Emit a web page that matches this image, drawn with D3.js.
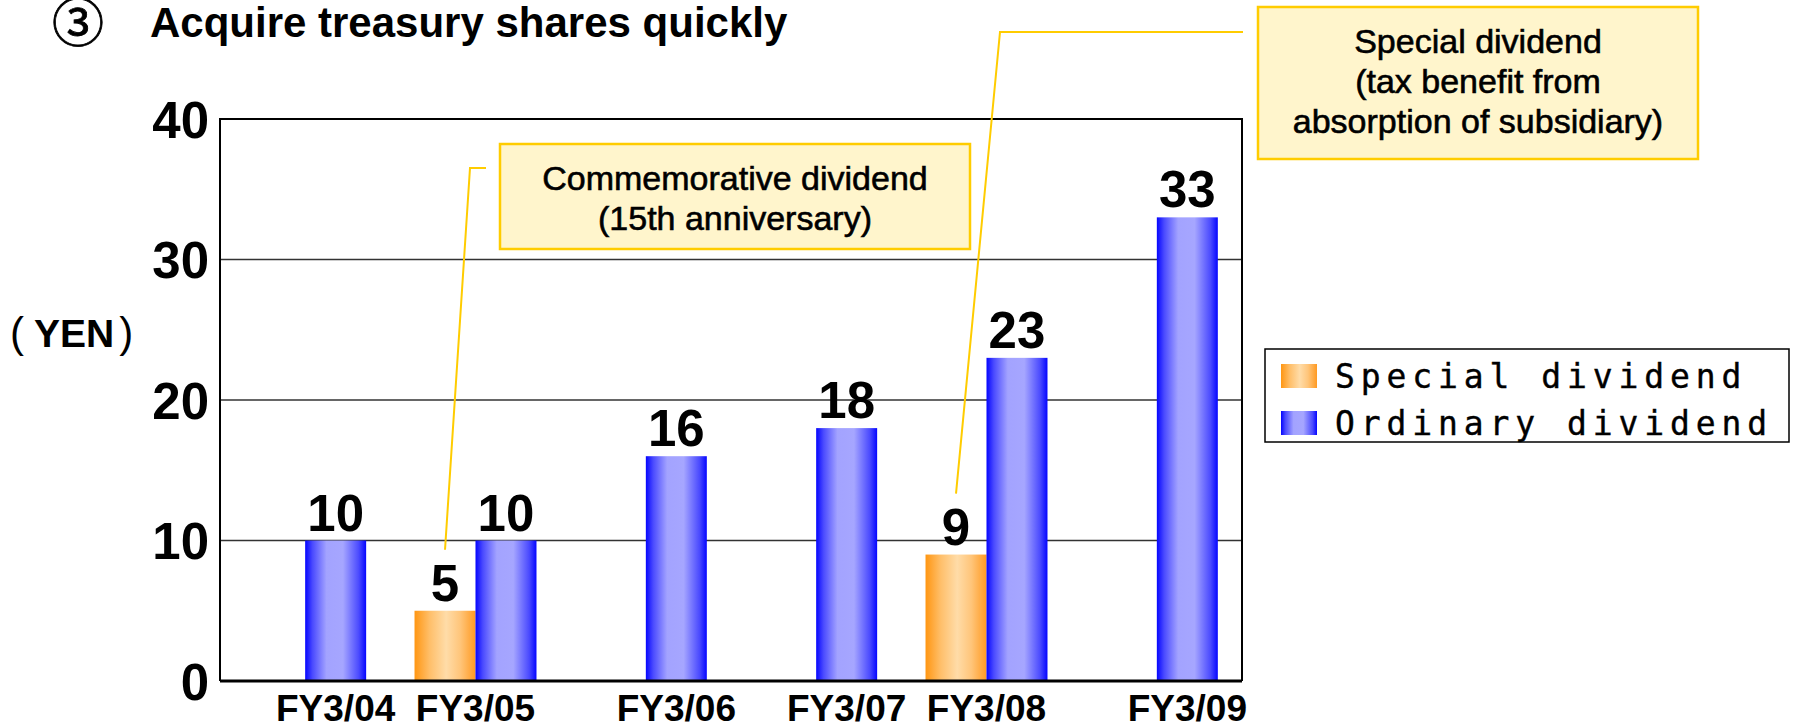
<!DOCTYPE html>
<html>
<head>
<meta charset="utf-8">
<script src="https://cdn.jsdelivr.net/npm/d3@7.9.0/dist/d3.min.js"></script>
<style>
  html, body { margin: 0; padding: 0; background: #fff; }
  svg { display: block; font-family: "Liberation Sans", Arial, sans-serif; }
</style>
</head>
<body>
<svg id="chart" width="1795" height="728"></svg>
<script>
const categories = ['FY3/04', 'FY3/05', 'FY3/06', 'FY3/07', 'FY3/08', 'FY3/09'];
const specialDividend = [0, 5, 0, 0, 9, 0];
const ordinaryDividend = [10, 10, 16, 18, 23, 33];
const seriesKeys = ['special', 'ordinary'];
const seriesNames = ['Special dividend', 'Ordinary dividend'];
const yTicks = [0, 10, 20, 30, 40];
const titleText = 'Acquire treasury shares quickly';
const yUnit = 'YEN';

// callouts: text lines and the bar they point at
const callouts = [
  { lines: ['Commemorative dividend', '(15th anniversary)'], category: 'FY3/05', box: [500, 144, 470, 105], bend: [486, 470, 168] },
  { lines: ['Special dividend', '(tax benefit from', 'absorption of subsidiary)'], category: 'FY3/08', box: [1258, 7, 440, 152], bend: [1243, 1000, 32] }
];

const plot = { left: 220, right: 1242, top: 119, bottom: 681 };

const rows = categories.map((c, i) => ({
  category: c,
  special: specialDividend[i],
  ordinary: ordinaryDividend[i]
}));

const svg = d3.select('#chart');

const defs = svg.append('defs');
function grad(id, stops) {
  const g = defs.append('linearGradient').attr('id', id)
    .attr('x1', '0%').attr('x2', '100%').attr('y1', '0%').attr('y2', '0%');
  stops.forEach(([o, c]) => g.append('stop').attr('offset', o).attr('stop-color', c));
}
grad('g-ordinary', [[0, '#0505ff'], [0.12, '#4a4aff'], [0.35, '#a3a3ff'], [0.62, '#a6a6ff'], [0.88, '#4a4aff'], [1, '#0505ff']]);
grad('g-special', [[0, '#ff9612'], [0.25, '#ffbf6a'], [0.52, '#ffdca8'], [0.75, '#ffc57a'], [1, '#ff9a22']]);
const fills = { special: 'url(#g-special)', ordinary: 'url(#g-ordinary)' };

const x = d3.scaleBand()
  .domain(categories)
  .range([plot.left, plot.right])
  .paddingInner(0.284)
  .paddingOuter(0.142);

const xSub = d3.scaleBand()
  .domain(seriesKeys)
  .range([0, x.bandwidth()]);

const y = d3.scaleLinear()
  .domain([0, 40])
  .range([plot.bottom, plot.top]);

// title
svg.append('text')
  .attr('x', 52).attr('y', 42)
  .attr('font-family', '"Noto Sans CJK JP", sans-serif')
  .attr('font-size', 52)
  .attr('stroke', '#000').attr('stroke-width', 0.8)
  .text('③');
svg.append('text')
  .attr('x', 150).attr('y', 37)
  .attr('font-size', 42).attr('font-weight', 'bold')
  .text(titleText);

// grid lines
svg.append('g')
  .selectAll('line')
  .data(yTicks.filter(t => t > 0 && t < 40))
  .join('line')
  .attr('x1', plot.left).attr('x2', plot.right)
  .attr('y1', d => y(d)).attr('y2', d => y(d))
  .attr('stroke', '#333').attr('stroke-width', 1.5);

// frame
svg.append('path')
  .attr('d', `M${plot.left},${plot.bottom}V${plot.top}H${plot.right}V${plot.bottom}`)
  .attr('fill', 'none').attr('stroke', '#000').attr('stroke-width', 2);

// bars
const groups = svg.append('g')
  .selectAll('g')
  .data(rows)
  .join('g')
  .attr('transform', d => `translate(${x(d.category)},0)`);

groups.selectAll('rect')
  .data(d => seriesKeys.map(k => ({ key: k, value: d[k] })).filter(d => d.value > 0))
  .join('rect')
  .attr('x', d => xSub(d.key))
  .attr('width', xSub.bandwidth())
  .attr('y', d => y(d.value))
  .attr('height', d => y(0) - y(d.value))
  .attr('fill', d => fills[d.key]);

groups.selectAll('text')
  .data(d => seriesKeys.map(k => ({ key: k, value: d[k] })).filter(d => d.value > 0))
  .join('text')
  .attr('x', d => xSub(d.key) + xSub.bandwidth() / 2)
  .attr('y', d => y(d.value) - 10)
  .attr('text-anchor', 'middle')
  .attr('font-size', 51).attr('font-weight', 'bold')
  .text(d => d.value);

// zero axis line
svg.append('line')
  .attr('x1', plot.left).attr('x2', plot.right)
  .attr('y1', y(0)).attr('y2', y(0))
  .attr('stroke', '#000').attr('stroke-width', 3);

// y axis labels
const yAxis = svg.append('g')
  .attr('transform', `translate(${plot.left},0)`)
  .call(d3.axisLeft(y).tickValues(yTicks).tickSize(0).tickPadding(11));
yAxis.select('.domain').remove();
yAxis.selectAll('text')
  .attr('font-family', '"Liberation Sans", Arial, sans-serif')
  .attr('font-size', 51).attr('font-weight', 'bold')
  .attr('fill', '#000')
  .attr('dy', '0.36em');

// unit label
const unit = svg.append('text')
  .attr('x', 10).attr('y', 347)
  .attr('font-size', 39).attr('font-weight', 'bold');
unit.append('tspan').attr('font-weight', 'normal').attr('font-size', 42).text('(');
unit.append('tspan').attr('dx', 10).text(yUnit);
unit.append('tspan').attr('dx', 5).attr('font-weight', 'normal').attr('font-size', 42).text(')');

// x labels: centred on the pair when there is a special dividend, else on the ordinary bar
svg.append('g')
  .selectAll('text')
  .data(rows)
  .join('text')
  .attr('x', d => d.special > 0
    ? x(d.category) + x.bandwidth() / 2
    : x(d.category) + xSub('ordinary') + xSub.bandwidth() / 2)
  .attr('y', 721)
  .attr('text-anchor', 'middle')
  .attr('font-size', 37).attr('font-weight', 'bold')
  .text(d => d.category);

// callouts
callouts.forEach(c => {
  const i = categories.indexOf(c.category);
  const tx = x(c.category) + xSub('special') + xSub.bandwidth() / 2;
  const ty = y(specialDividend[i]) - 10 - 37 - 14;
  const [bx, by, bw, bh] = c.box;
  const [s0, s1, sy] = c.bend;
  svg.append('path')
    .attr('d', `M${s0},${sy}H${s1}L${tx},${ty}`)
    .attr('fill', 'none').attr('stroke', '#ffcc00').attr('stroke-width', 2);
  svg.append('rect')
    .attr('x', bx).attr('y', by).attr('width', bw).attr('height', bh)
    .attr('fill', '#fff5cc').attr('stroke', '#ffcc00').attr('stroke-width', 2.5);
  svg.append('text')
    .attr('text-anchor', 'middle')
    .attr('font-size', 34)
    .attr('stroke', '#000').attr('stroke-width', 0.6)
    .selectAll('tspan')
    .data(c.lines)
    .join('tspan')
    .attr('x', bx + bw / 2)
    .attr('y', (d, j) => by + 46 + j * 40)
    .text(d => d);
});

// legend
const legend = svg.append('g').attr('transform', 'translate(1265,349)');
legend.append('rect')
  .attr('width', 524).attr('height', 93)
  .attr('fill', '#fff').attr('stroke', '#000').attr('stroke-width', 1.5);
const items = legend.selectAll('g.item')
  .data(seriesKeys)
  .join('g')
  .attr('class', 'item')
  .attr('transform', (d, i) => `translate(16,${15 + i * 47})`);
items.append('rect')
  .attr('width', 36).attr('height', 24)
  .attr('fill', d => fills[d]);
items.append('text')
  .attr('x', 54).attr('y', 24)
  .attr('font-family', '"DejaVu Sans Mono", "Liberation Mono", monospace')
  .attr('font-size', 33)
  .attr('letter-spacing', 5.9)
  .attr('stroke', '#000').attr('stroke-width', 0.4)
  .text((d, i) => seriesNames[i]);
</script>
</body>
</html>
